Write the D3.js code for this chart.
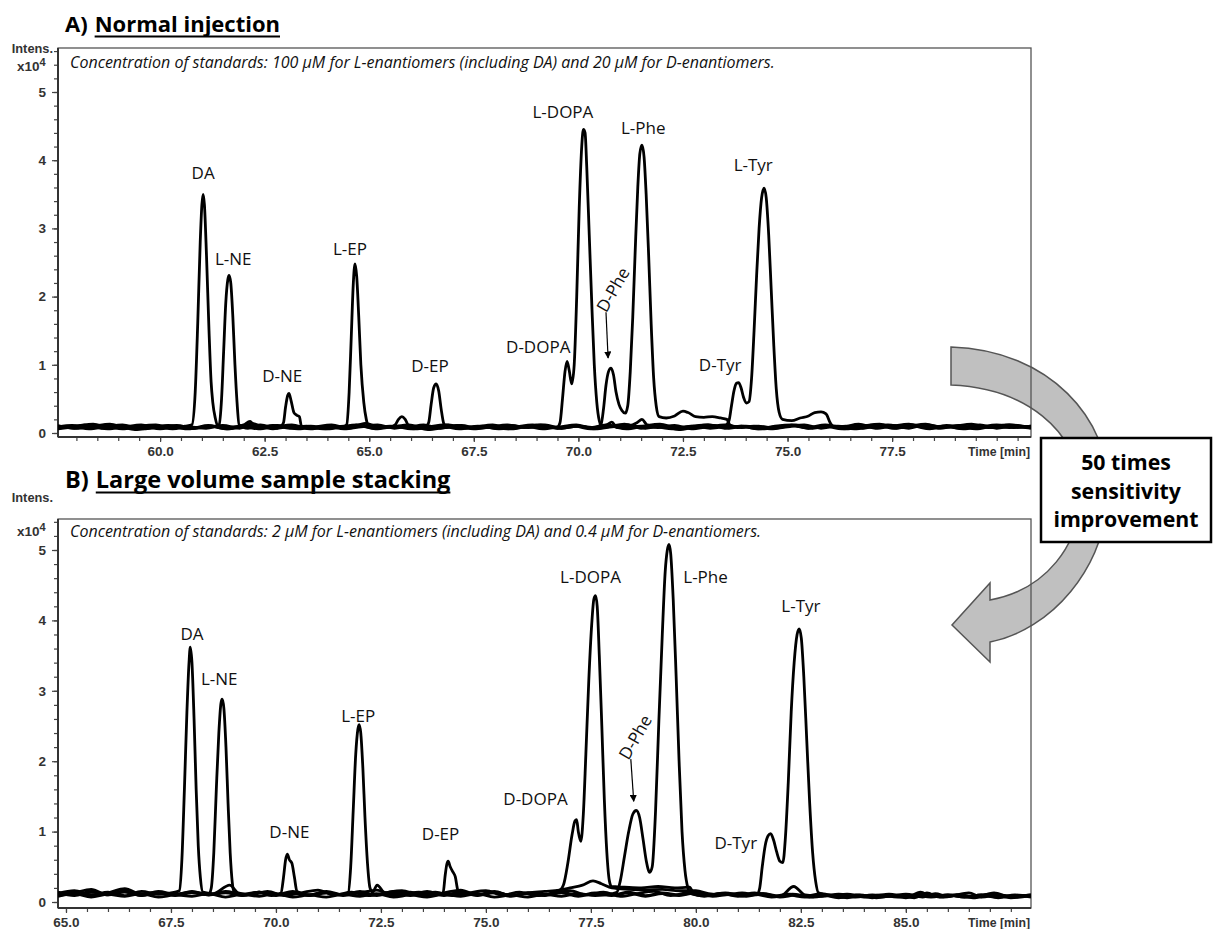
<!DOCTYPE html>
<html>
<head>
<meta charset="utf-8">
<script src="https://cdn.jsdelivr.net/npm/d3@7"></script>
<style>
  body { margin: 0; background: #fff; }
  svg { display: block; }
  .tick text { font-family: "Liberation Sans", Arial, sans-serif; font-weight: bold; font-size: 13.5px; fill: #333; }
  .tick line { stroke: #444; stroke-width: 1.2; }
  .axis-name { font-family: "Liberation Sans", Arial, sans-serif; font-weight: bold; font-size: 12.3px; fill: #333; }
  .title { font-family: "Open Sans", sans-serif; font-weight: bold; font-size: 22px; fill: #000; }
  .note { font-family: "Open Sans", sans-serif; font-style: italic; font-size: 16px; fill: #111; }
  .peak { font-family: "Open Sans", sans-serif; font-size: 17px; fill: #111; }
  .boxtext { font-family: "Open Sans", sans-serif; font-weight: bold; font-size: 21.3px; fill: #000; }
</style>
</head>
<body>
<svg id="chart" width="1213" height="929"></svg>
<script>
// ---- A) Normal injection: traces as [time (min), intensity (x10^4)] ----
const normDA = [[57.56,.09],[57.9,.11],[58.3,.07],[58.7,.1],[59.1,.06],[59.5,.1],[59.9,.12],[60.3,.07],[60.6,.1],
  [60.76,.12],[60.84,.6],[60.9,1.6],[60.96,2.8],[61.0,3.35],[61.03,3.5],[61.06,3.35],[61.11,2.6],[61.17,1.5],[61.22,.75],[61.26,.45],[61.32,.22],[61.38,.1],
  [61.7,.08],[62.0,.12],[62.15,.17],[62.3,.07],[62.7,.11],[63.1,.07],[63.5,.1],[63.9,.06],[64.3,.09],[64.7,.12],[65.1,.07],[65.5,.1],[65.9,.08],[66.3,.12],[66.7,.07],[67.1,.1],[67.5,.06],[67.9,.09],[68.3,.12],[68.7,.08],[69.1,.1],[69.5,.07],[69.9,.11],[70.3,.08],[70.7,.12],[71.1,.07],[71.5,.1],[71.9,.08],[72.3,.11],[72.7,.06],[73.1,.09],[73.5,.12],[73.9,.08],[74.3,.1],[74.7,.07],[75.1,.11],[75.5,.08],[75.9,.12],[76.3,.09],[76.7,.13],[77.1,.08],[77.5,.11],[77.9,.07],[78.3,.12],[78.7,.09],[79.1,.11],[79.5,.07],[79.9,.1],[80.3,.08],[80.82,.1]];
const normNE = [[57.56,.06],[57.8,.08],[58.2,.12],[58.6,.07],[59.0,.09],[59.4,.05],[59.8,.08],[60.2,.11],[60.6,.06],[61.0,.08],[61.35,.1],
  [61.41,.12],[61.47,.5],[61.52,1.2],[61.57,1.9],[61.62,2.25],[61.65,2.31],[61.69,2.2],[61.74,1.7],[61.79,1.0],[61.84,.45],[61.89,.12],
  [62.1,.07],[62.4,.1],[62.7,.06],[62.88,.09],
  [62.95,.15],[63.0,.38],[63.05,.55],[63.08,.58],[63.13,.48],[63.2,.3],[63.27,.26],[63.33,.24],[63.38,.1],
  [63.6,.07],[64.0,.1],[64.4,.06],[64.8,.09],[65.2,.12],[65.6,.07],[66.0,.1],[66.4,.05],[66.8,.08],[67.2,.11],[67.6,.07],[68.0,.09],[68.4,.06],[68.8,.1],[69.2,.12],[69.6,.07],[70.0,.1],[70.4,.06],[70.8,.09],[71.2,.12],[71.6,.07],[72.0,.1],[72.4,.05],[72.8,.09],[73.2,.11],[73.6,.07],[74.0,.1],[74.4,.06],[74.8,.09],[75.2,.12],[75.6,.07],[76.0,.1],[76.4,.06],[76.8,.1],[77.2,.13],[77.6,.07],[78.0,.1],[78.4,.06],[78.8,.11],[79.2,.08],[79.6,.12],[80.0,.07],[80.4,.1],[80.82,.08]];
const normEP = [[57.56,.1],[58.0,.07],[58.4,.1],[58.8,.13],[59.2,.08],[59.6,.1],[60.0,.06],[60.4,.09],[60.8,.07],[61.2,.1],[61.6,.06],[62.0,.09],[62.4,.12],[62.8,.07],[63.2,.1],[63.6,.06],[64.0,.09],[64.4,.1],
  [64.46,.12],[64.52,.6],[64.57,1.4],[64.62,2.2],[64.66,2.48],[64.7,2.3],[64.75,1.7],[64.8,1.0],[64.87,.45],[64.93,.2],[64.98,.1],
  [65.2,.08],[65.5,.09],[65.62,.12],[65.7,.2],[65.78,.24],[65.86,.2],[65.95,.1],[66.2,.08],[66.36,.1],
  [66.42,.15],[66.48,.42],[66.54,.66],[66.6,.72],[66.66,.62],[66.72,.35],[66.78,.14],[66.84,.08],
  [67.1,.11],[67.5,.07],[67.9,.1],[68.3,.06],[68.7,.09],[69.1,.12],[69.5,.07],[69.9,.1],[70.3,.06],[70.7,.09],[71.1,.13],[71.5,.07],[71.9,.1],[72.3,.07],[72.7,.1],[73.1,.12],[73.5,.08],[73.9,.1],[74.3,.06],[74.7,.1],[75.1,.12],[75.5,.07],[75.9,.11],[76.3,.08],[76.7,.12],[77.1,.07],[77.5,.1],[77.9,.13],[78.3,.08],[78.7,.1],[79.1,.07],[79.5,.11],[79.9,.08],[80.3,.12],[80.82,.08]];
const normDOPA = [[57.56,.08],[57.9,.1],[58.3,.06],[58.7,.09],[59.1,.12],[59.5,.07],[59.9,.1],[60.3,.06],[60.7,.09],[61.1,.07],[61.5,.11],[61.9,.07],[62.2,.14],[62.5,.08],[62.9,.1],[63.3,.06],[63.7,.09],[64.1,.12],[64.5,.07],[64.9,.14],[65.3,.08],[65.7,.1],[66.1,.06],[66.5,.09],[66.9,.12],[67.3,.07],[67.7,.1],[68.1,.06],[68.5,.09],[68.9,.12],[69.3,.08],[69.5,.09],
  [69.56,.15],[69.62,.5],[69.68,.9],[69.73,1.05],[69.78,.92],[69.84,.72],[69.9,1.0],[69.96,2.0],[70.02,3.3],[70.08,4.2],[70.12,4.45],[70.16,4.4],[70.2,3.9],[70.26,2.9],[70.32,1.9],[70.38,1.0],[70.44,.45],[70.5,.18],[70.56,.1],
  [70.68,.12],[70.8,.16],[70.92,.08],[71.2,.1],[71.4,.15],[71.52,.2],[71.64,.12],[71.9,.09],
  [72.3,.06],[72.7,.09],[73.1,.12],[73.5,.07],[73.9,.1],[74.3,.06],[74.7,.09],[75.1,.11],[75.5,.07],[75.9,.1],[76.3,.06],[76.7,.09],[77.1,.12],[77.5,.07],[77.9,.1],[78.3,.13],[78.7,.08],[79.1,.1],[79.5,.06],[79.9,.1],[80.3,.12],[80.82,.07]];
const normPhe = [[57.56,.07],[58.0,.1],[58.4,.13],[58.8,.08],[59.2,.1],[59.6,.06],[60.0,.09],[60.4,.11],[60.8,.07],[61.2,.1],[61.6,.06],[62.0,.1],[62.4,.08],[62.8,.11],[63.2,.07],[63.6,.1],[64.0,.06],[64.4,.09],[64.8,.12],[65.2,.07],[65.6,.1],[66.0,.06],[66.4,.09],[66.8,.12],[67.2,.08],[67.6,.1],[68.0,.07],[68.4,.11],[68.8,.08],[69.2,.1],[69.6,.07],[70.0,.1],[70.4,.08],
  [70.54,.12],[70.6,.35],[70.66,.7],[70.72,.9],[70.78,.95],[70.84,.85],[70.9,.6],[70.97,.42],[71.04,.33],[71.12,.29],
  [71.18,.4],[71.24,.9],[71.3,1.7],[71.36,2.7],[71.42,3.6],[71.47,4.1],[71.52,4.22],[71.57,4.05],[71.62,3.5],[71.68,2.6],[71.74,1.6],[71.8,.8],[71.86,.4],[71.93,.24],
  [72.1,.22],[72.3,.25],[72.5,.32],[72.62,.3],[72.8,.24],[73.0,.23],[73.2,.24],[73.4,.22],[73.55,.2],[73.62,.12],
  [73.8,.08],[74.2,.1],[74.6,.06],[75.0,.09],[75.4,.12],[75.8,.07],[76.2,.1],[76.6,.06],[77.0,.09],[77.4,.12],[77.8,.08],[78.2,.11],[78.6,.07],[79.0,.1],[79.4,.13],[79.8,.08],[80.2,.1],[80.82,.07]];
const normTyr = [[57.56,.11],[57.95,.07],[58.35,.1],[58.75,.06],[59.15,.09],[59.55,.12],[59.95,.07],[60.35,.1],[60.75,.07],[61.15,.11],[61.55,.08],[61.95,.1],[62.35,.06],[62.75,.09],[63.15,.12],[63.55,.07],[63.95,.1],[64.35,.08],[64.75,.11],[65.15,.06],[65.55,.09],[65.95,.12],[66.35,.07],[66.75,.1],[67.15,.06],[67.55,.09],[67.95,.12],[68.35,.07],[68.75,.1],[69.15,.06],[69.55,.09],[69.95,.12],[70.35,.07],[70.75,.1],[71.15,.06],[71.55,.1],[71.95,.13],[72.35,.08],[72.75,.1],[73.15,.07],[73.5,.1],
  [73.6,.18],[73.66,.4],[73.72,.62],[73.78,.73],[73.83,.74],[73.89,.66],[73.95,.52],[74.02,.44],[74.08,.46],
  [74.14,.8],[74.2,1.5],[74.26,2.3],[74.32,3.0],[74.38,3.45],[74.44,3.59],[74.49,3.45],[74.55,2.9],[74.61,2.1],[74.67,1.3],[74.73,.65],[74.8,.3],[74.88,.2],
  [75.1,.18],[75.3,.22],[75.5,.25],[75.65,.3],[75.8,.31],[75.92,.28],[76.02,.15],[76.1,.09],
  [76.4,.1],[76.8,.07],[77.2,.11],[77.6,.08],[78.0,.12],[78.4,.07],[78.8,.1],[79.2,.06],[79.6,.09],[80.0,.12],[80.4,.08],[80.82,.1]];

// ---- B) Large volume sample stacking ----
const stackDA = [[64.81,.12],[65.2,.16],[65.6,.1],[66.0,.14],[66.4,.09],[66.8,.15],[67.2,.11],[67.6,.14],
  [67.7,.16],[67.76,.6],[67.82,1.6],[67.88,2.7],[67.93,3.4],[67.96,3.62],[68.0,3.4],[68.05,2.6],[68.1,1.6],[68.15,.8],[68.2,.35],[68.26,.14],
  [68.5,.12],[68.9,.24],[69.1,.13],[69.4,.1],[69.8,.15],[70.2,.09],[70.6,.13],[71.0,.17],[71.4,.1],[71.8,.14],[72.2,.09],[72.6,.13],[73.0,.16],[73.4,.1],[73.8,.14],[74.2,.09],[74.6,.13],[75.0,.16],[75.4,.1],[75.8,.14],[76.2,.09],[76.6,.12],[77.0,.16],[77.4,.1],[77.8,.14],[78.2,.08],[78.6,.12],[79.0,.15],[79.4,.09],[79.8,.13],[80.2,.08],[80.6,.12],[81.0,.09],[81.4,.13],[81.8,.08],[82.2,.11],[82.6,.08],[83.0,.12],[83.4,.07],[83.8,.1],[84.2,.08],[84.6,.11],[85.0,.07],[85.4,.12],[85.8,.08],[86.2,.1],[86.6,.07],[87.0,.11],[87.4,.08],[87.98,.1]];
const stackNE = [[64.81,.09],[65.2,.13],[65.6,.18],[66.0,.1],[66.4,.14],[66.8,.09],[67.2,.13],[67.6,.1],[68.0,.14],[68.4,.11],
  [68.46,.2],[68.52,.7],[68.58,1.6],[68.64,2.4],[68.69,2.82],[68.72,2.88],[68.76,2.75],[68.81,2.2],[68.86,1.4],[68.91,.7],[68.96,.28],[69.0,.14],
  [69.3,.1],[69.6,.14],[69.9,.09],[70.12,.13],
  [70.18,.35],[70.23,.6],[70.27,.68],[70.32,.6],[70.38,.55],[70.44,.35],[70.5,.15],
  [70.8,.1],[71.2,.14],[71.6,.09],[72.0,.13],[72.4,.1],[72.8,.15],[73.2,.09],[73.6,.13],[74.0,.1],[74.4,.14],[74.8,.09],[75.2,.13],[75.6,.08],[76.0,.12],[76.4,.09],[76.8,.13],[77.2,.08],[77.6,.12],[78.0,.09],[78.4,.13],[78.8,.08],[79.2,.12],[79.6,.09],[80.0,.13],[80.4,.08],[80.8,.11],[81.2,.08],[81.6,.12],[82.0,.07],[82.4,.1],[82.8,.07],[83.2,.1],[83.6,.06],[84.0,.09],[84.4,.07],[84.8,.1],[85.2,.06],[85.5,.13],[85.8,.07],[86.2,.1],[86.6,.06],[87.1,.13],[87.5,.07],[87.98,.09]];
const stackEP = [[64.81,.14],[65.2,.1],[65.6,.15],[66.0,.11],[66.4,.16],[66.8,.1],[67.2,.15],[67.6,.11],[68.0,.14],[68.4,.1],[68.8,.13],[69.2,.09],[69.6,.14],[70.0,.1],[70.4,.13],[70.8,.09],[71.2,.13],[71.5,.1],[71.72,.13],
  [71.78,.5],[71.84,1.3],[71.9,2.1],[71.95,2.45],[71.98,2.52],[72.02,2.4],[72.07,1.9],[72.12,1.2],[72.18,.55],[72.24,.2],[72.3,.14],
  [72.41,.24],[72.6,.12],[73.0,.1],[73.4,.14],[73.8,.1],[73.98,.13],
  [74.03,.38],[74.07,.54],[74.1,.58],[74.15,.5],[74.21,.43],[74.27,.36],[74.33,.17],[74.4,.12],
  [74.8,.1],[75.2,.14],[75.6,.09],[76.0,.13],[76.4,.1],[76.8,.14],[77.2,.09],[77.6,.13],[78.0,.1],[78.4,.14],[78.8,.09],[79.2,.13],[79.6,.1],[80.0,.14],[80.4,.09],[80.8,.12],[81.2,.09],[81.6,.12],[82.0,.08],[82.33,.22],[82.6,.1],[83.0,.08],[83.4,.11],[83.8,.07],[84.2,.1],[84.6,.08],[85.0,.11],[85.4,.07],[85.7,.12],[86.0,.08],[86.5,.13],[86.8,.07],[87.2,.1],[87.6,.08],[87.98,.1]];
const stackDOPA = [[64.81,.11],[65.2,.15],[65.6,.1],[66.0,.13],[66.4,.19],[66.8,.11],[67.2,.14],[67.6,.09],[68.0,.13],[68.4,.1],[68.8,.15],[69.2,.11],[69.6,.14],[70.0,.09],[70.4,.13],[70.8,.1],[71.2,.15],[71.6,.1],[72.0,.13],[72.4,.17],[72.8,.1],[73.2,.14],[73.6,.09],[74.0,.13],[74.4,.17],[74.8,.1],[75.2,.14],[75.6,.09],[76.0,.13],[76.4,.15],[76.75,.17],
  [76.85,.25],[76.95,.55],[77.05,.95],[77.12,1.15],[77.16,1.17],[77.2,1.0],[77.26,.86],[77.32,1.25],[77.38,2.1],[77.45,3.15],[77.52,3.95],[77.57,4.3],[77.61,4.35],[77.65,4.2],[77.7,3.5],[77.76,2.5],[77.82,1.45],[77.88,.7],[77.94,.3],[77.99,.22],
  [78.3,.21],[78.7,.2],[79.1,.22],[79.5,.2],[79.85,.21],[79.95,.12],
  [80.3,.1],[80.7,.13],[81.1,.09],[81.5,.12],[81.9,.08],[82.3,.11],[82.7,.07],[83.1,.1],[83.5,.07],[83.9,.1],[84.3,.06],[84.7,.09],[85.1,.07],[85.5,.1],[85.9,.07],[86.3,.1],[86.7,.07],[87.1,.1],[87.5,.06],[87.98,.09]];
const stackPhe = [[64.81,.08],[65.2,.12],[65.6,.07],[66.0,.11],[66.4,.08],[66.8,.12],[67.2,.07],[67.6,.1],[68.0,.08],[68.4,.12],[68.8,.07],[69.2,.11],[69.6,.08],[70.0,.12],[70.4,.07],[70.8,.1],[71.2,.07],[71.6,.11],[72.0,.08],[72.4,.12],[72.8,.07],[73.2,.1],[73.6,.07],[74.0,.11],[74.4,.08],[74.8,.12],[75.2,.07],[75.6,.1],[76.0,.07],[76.4,.11],[76.8,.08],[77.2,.12],[77.6,.09],[78.0,.12],[78.12,.14],
  [78.2,.3],[78.3,.65],[78.4,1.0],[78.5,1.25],[78.58,1.3],[78.66,1.2],[78.74,.9],[78.82,.58],[78.9,.42],[78.96,.5],[79.04,1.3],[79.12,2.6],[79.2,3.8],[79.27,4.7],[79.32,5.0],[79.36,5.08],[79.4,4.95],[79.46,4.3],[79.53,3.2],[79.6,2.0],[79.67,1.0],[79.74,.45],[79.81,.2],[79.88,.12],
  [80.2,.09],[80.6,.12],[81.0,.08],[81.4,.11],[81.8,.07],[82.2,.1],[82.6,.07],[83.0,.1],[83.4,.06],[83.8,.09],[84.2,.06],[84.6,.09],[85.0,.06],[85.35,.14],[85.6,.08],[86.0,.1],[86.4,.07],[86.8,.1],[87.2,.06],[87.6,.09],[87.98,.07]];
const stackTyr = [[64.81,.13],[65.2,.09],[65.6,.14],[66.0,.1],[66.4,.15],[66.8,.09],[67.2,.13],[67.6,.1],[68.0,.15],[68.4,.1],[68.8,.14],[69.2,.09],[69.6,.13],[70.0,.1],[70.4,.15],[70.8,.09],[71.2,.13],[71.6,.1],[72.0,.15],[72.4,.09],[72.8,.13],[73.2,.1],[73.6,.15],[74.0,.09],[74.4,.13],[74.8,.1],[75.2,.15],[75.6,.09],[76.0,.13],[76.4,.1],
  [76.7,.16],[77.0,.2],[77.3,.24],[77.55,.3],[77.75,.26],[78.0,.2],[78.4,.18],[78.8,.17],[79.2,.18],[79.6,.16],[80.0,.16],[80.3,.12],
  [80.7,.1],[81.1,.13],[81.45,.1],
  [81.52,.2],[81.58,.5],[81.65,.8],[81.72,.94],[81.78,.97],[81.85,.88],[81.92,.72],[82.0,.58],[82.07,.56],[82.13,.9],[82.2,1.7],[82.27,2.7],[82.34,3.4],[82.41,3.8],[82.46,3.88],[82.51,3.75],[82.57,3.2],[82.64,2.3],[82.71,1.4],[82.78,.7],[82.85,.3],[82.92,.13],
  [83.2,.09],[83.6,.11],[84.0,.07],[84.4,.1],[84.8,.07],[85.2,.1],[85.6,.07],[86.0,.1],[86.4,.07],[86.8,.1],[87.2,.07],[87.6,.1],[87.98,.08]];

// peak labels and where they sit (time, intensity)
const peakNames = ["DA", "L-NE", "D-NE", "L-EP", "D-EP", "D-DOPA", "L-DOPA", "L-Phe", "D-Tyr", "L-Tyr"];
const normLabelAt = [[61.03,3.81],[61.75,2.55],[62.92,0.84],[64.54,2.70],[66.45,0.98],[69.04,1.26],[69.63,4.71],[71.55,4.47],[73.39,1.0],[74.18,3.93]];
const stackLabelAt = [[68.0,3.80],[68.65,3.16],[70.32,1.0],[71.96,2.64],[73.92,0.96],[76.18,1.46],[77.49,4.62],[80.23,4.62],[80.95,0.84],[82.5,4.2]];
// D-Phe: rotated label, arrow start, arrow end
const normDPhe = [[70.83,2.10],[70.66,1.77],[70.71,1.10]];
const stackDPhe = [[78.56,2.34],[78.45,2.03],[78.52,1.43]];

const normTicks = [60.0, 62.5, 65.0, 67.5, 70.0, 72.5, 75.0, 77.5];
const stackTicks = [65.0, 67.5, 70.0, 72.5, 75.0, 77.5, 80.0, 82.5, 85.0];
const yTicks = [0, 1, 2, 3, 4, 5];

const svg = d3.select("#chart");

svg.append("defs").append("marker")
  .attr("id", "ah").attr("viewBox", "0 0 10 10")
  .attr("refX", 9).attr("refY", 5)
  .attr("markerWidth", 6).attr("markerHeight", 6)
  .attr("orient", "auto")
  .append("path").attr("d", "M0,0L10,5L0,10z").attr("fill", "#000");

// big curved grey arrow goes underneath everything
svg.append("path")
  .attr("d", "M951,347 C1050,350 1110,420 1108,490 C1106,570 1050,630 990,642 L990,662 L952,625 L990,583 L990,600 C1045,590 1082,545 1080,490 C1078,430 1025,388 951,385 Z")
  .attr("fill", "#c0c0c0")
  .attr("stroke", "#555")
  .attr("stroke-width", 1.5);

const panels = [
  { id: "A", tag: "A)", title: "Normal injection", titleSize: 22,
    note: "Concentration of standards: 100 \u03bcM for L-enantiomers (including DA) and 20 \u03bcM for D-enantiomers.",
    traces: [normDA, normNE, normEP, normDOPA, normPhe, normTyr],
    labelAt: normLabelAt, dphe: normDPhe, ticks: normTicks,
    xDomain: [57.56, 80.82],
    left: 58, right: 1031, top: 48, bottom: 437, zero: 433, unit: 68.2,
    titleY: 32, intensY: 53, x10Y: 71, noteY: 68 },
  { id: "B", tag: "B)", title: "Large volume sample stacking", titleSize: 23.5,
    note: "Concentration of standards: 2 \u03bcM for L-enantiomers (including DA) and 0.4 \u03bcM for D-enantiomers.",
    traces: [stackDA, stackNE, stackEP, stackDOPA, stackPhe, stackTyr],
    labelAt: stackLabelAt, dphe: stackDPhe, ticks: stackTicks,
    xDomain: [64.81, 87.98],
    left: 58, right: 1031, top: 519, bottom: 908, zero: 902, unit: 70.4,
    titleY: 488, intensY: 502, x10Y: 536, noteY: 537 }
];

panels.forEach(p => {
  const x = d3.scaleLinear().domain(p.xDomain).range([p.left, p.right]);
  const y = d3.scaleLinear()
    .domain([(p.zero - p.bottom) / p.unit, (p.zero - p.top) / p.unit])
    .range([p.bottom, p.top]);

  const g = svg.append("g").attr("class", "panel-" + p.id);

  // title with underline on the name
  const tag = g.append("text").attr("class", "title").style("font-size", p.titleSize + "px")
    .attr("x", 65).attr("y", p.titleY).text(p.tag);
  const tagW = tag.node().getComputedTextLength();
  const nameX = 65 + tagW + 7;
  const name = g.append("text").attr("class", "title").style("font-size", p.titleSize + "px")
    .attr("x", nameX).attr("y", p.titleY).text(p.title);
  const nameW = name.node().getComputedTextLength();
  g.append("line")
    .attr("x1", nameX).attr("x2", nameX + nameW)
    .attr("y1", p.titleY + 4.5).attr("y2", p.titleY + 4.5)
    .attr("stroke", "#000").attr("stroke-width", 2);

  // frame
  g.append("rect")
    .attr("x", p.left).attr("y", p.top)
    .attr("width", p.right - p.left).attr("height", p.bottom - p.top)
    .attr("fill", "none").attr("stroke", "#555").attr("stroke-width", 1.3);

  // axes
  const xMinor = d3.range(Math.ceil(p.xDomain[0] * 2) / 2, p.xDomain[1], 0.5);
  g.append("g").attr("transform", `translate(0,${p.bottom})`)
    .call(d3.axisBottom(x).tickValues(xMinor).tickSize(4).tickFormat(""))
    .call(a => a.select(".domain").remove());
  g.append("g").attr("transform", `translate(0,${p.bottom})`)
    .call(d3.axisBottom(x).tickValues(p.ticks).tickSize(5).tickPadding(4).tickFormat(d3.format(".1f")))
    .call(a => a.select(".domain").remove());

  const yMinor = d3.range(0, y.domain()[1], 0.2);
  g.append("g").attr("transform", `translate(${p.left},0)`)
    .call(d3.axisLeft(y).tickValues(yMinor).tickSize(4).tickFormat(""))
    .call(a => a.select(".domain").remove());
  g.append("g").attr("transform", `translate(${p.left},0)`)
    .call(d3.axisLeft(y).tickValues(yTicks).tickSize(6).tickPadding(6).tickFormat(d3.format("d")))
    .call(a => a.select(".domain").remove());

  g.append("line").attr("x1", p.left).attr("x2", p.right)
    .attr("y1", p.bottom).attr("y2", p.bottom)
    .attr("stroke", "#333").attr("stroke-width", 2);
  g.append("line").attr("x1", p.left).attr("x2", p.left)
    .attr("y1", p.top).attr("y2", p.bottom)
    .attr("stroke", "#333").attr("stroke-width", 2);

  g.append("text").attr("class", "axis-name")
    .attr("x", p.right - 1).attr("y", p.bottom + 19)
    .attr("text-anchor", "end").text("Time [min]");
  g.append("text").attr("class", "axis-name")
    .attr("x", 53).attr("y", p.intensY).style("font-size", "12.8px")
    .attr("text-anchor", "end").text("Intens.");
  const x10 = g.append("text").attr("class", "axis-name")
    .attr("x", 17).attr("y", p.x10Y).style("font-size", "13.5px");
  x10.append("tspan").text("x10");
  x10.append("tspan").attr("dy", -5).style("font-size", "11px").text("4");

  g.append("text").attr("class", "note")
    .attr("x", 70).attr("y", p.noteY).text(p.note);

  // traces
  g.append("clipPath").attr("id", "clip" + p.id)
    .append("rect").attr("x", p.left).attr("y", p.top)
    .attr("width", p.right - p.left).attr("height", p.bottom - p.top);

  const line = d3.line()
    .x(d => x(d[0])).y(d => y(d[1]))
    .curve(d3.curveMonotoneX);

  g.append("g").attr("clip-path", `url(#clip${p.id})`)
    .selectAll("path").data(p.traces).join("path")
    .attr("d", line)
    .attr("fill", "none")
    .attr("stroke", "#000")
    .attr("stroke-width", 2.8)
    .attr("stroke-linejoin", "round");

  // peak labels
  g.selectAll("text.peak").data(peakNames).join("text")
    .attr("class", "peak")
    .attr("x", (d, i) => x(p.labelAt[i][0]))
    .attr("y", (d, i) => y(p.labelAt[i][1]))
    .attr("dy", "0.35em")
    .attr("text-anchor", "middle")
    .text(d => d);

  const [lab, from, to] = p.dphe;
  g.append("text").attr("class", "peak")
    .attr("transform", `translate(${x(lab[0])},${y(lab[1])}) rotate(-60)`)
    .attr("dy", "0.35em").attr("text-anchor", "middle")
    .text("D-Phe");
  g.append("line")
    .attr("x1", x(from[0])).attr("y1", y(from[1]))
    .attr("x2", x(to[0])).attr("y2", y(to[1]))
    .attr("stroke", "#000").attr("stroke-width", 1.2)
    .attr("marker-end", "url(#ah)");
});

// callout box
svg.append("rect")
  .attr("x", 1041).attr("y", 438).attr("width", 170).attr("height", 104)
  .attr("fill", "#fff").attr("stroke", "#000").attr("stroke-width", 2.5);
svg.selectAll("text.boxtext")
  .data(["50 times", "sensitivity", "improvement"])
  .join("text").attr("class", "boxtext")
  .attr("x", 1126).attr("y", (d, i) => 470 + i * 28.5)
  .attr("text-anchor", "middle")
  .text(d => d);
</script>
</body>
</html>
